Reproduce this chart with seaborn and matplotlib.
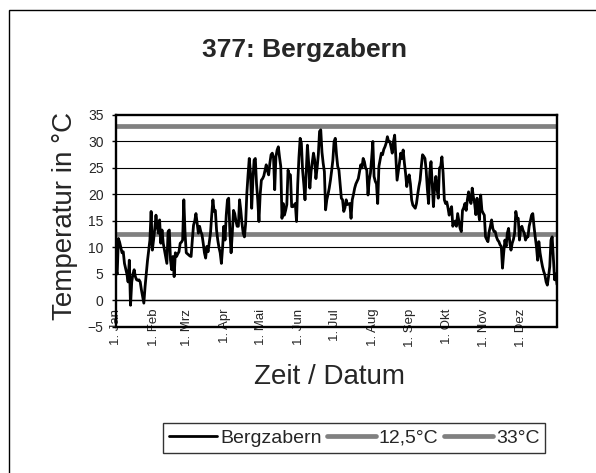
import numpy as np
import pandas as pd
import matplotlib
matplotlib.use('Agg')
import matplotlib.pyplot as plt
import matplotlib.patches as patches
import seaborn as sns

# ==============================================================================
# DATEN: Tagesmittel der Temperatur, Station 377 Bergzabern
# ==============================================================================
station = "377: Bergzabern"
monate = ["Jan", "Feb", "Mrz", "Apr", "Mai", "Jun",
          "Jul", "Aug", "Sep", "Okt", "Nov", "Dez"]
tage_pro_monat = [31, 28, 31, 30, 31, 30, 31, 31, 30, 31, 30, 31]

temp_jan = [5.8, 5.0, 11.7, 11.0, 10.0, 9.0, 9.2, 7.0, 6.0, 5.0,
            3.5, 7.6, -0.9, 3.5, 5.0, 5.8, 4.5, 3.9, 3.8, 3.9,
            3.5, 2.0, 0.7, -0.5, 2.6, 5.0, 7.5, 9.5, 11.4, 16.8, 9.5]
temp_feb = [11.4, 13.5, 16.1, 14.0, 12.7, 15.2, 10.8, 13.3, 10.8, 9.5,
            8.3, 7.0, 13.0, 13.3, 7.6, 5.8, 8.3, 4.5, 9.0, 8.3,
            8.8, 9.2, 10.8, 11.0, 11.4, 19.0, 12.7, 9.0]
temp_mrz = [8.8, 8.6, 8.4, 8.3, 11.4, 14.2, 15.0, 16.4, 14.5, 12.7,
            14.0, 13.0, 12.4, 10.8, 9.0, 8.0, 10.2, 9.2, 11.0, 12.7,
            16.1, 19.0, 16.8, 17.0, 13.3, 11.4, 10.0, 9.0, 7.0, 10.0, 14.0]
temp_apr = [11.4, 16.1, 19.0, 19.3, 13.0, 9.0, 12.7, 17.0, 16.4, 15.0,
            14.0, 14.0, 19.0, 17.0, 14.5, 12.7, 12.0, 14.5, 20.2, 23.7,
            26.8, 24.0, 17.4, 22.7, 26.5, 26.8, 22.0, 19.0, 14.9, 20.0]
temp_mai = [22.7, 23.0, 23.5, 24.6, 25.6, 24.5, 23.7, 25.9, 27.5, 27.8,
            27.0, 20.9, 27.1, 28.4, 29.0, 27.0, 25.3, 15.5, 18.3, 16.1,
            17.0, 18.1, 24.6, 23.7, 23.7, 17.7, 17.7, 18.0, 18.3, 14.9, 22.0]
temp_jun = [27.0, 30.6, 29.7, 24.6, 22.0, 19.0, 24.0, 29.3, 26.0, 21.2,
            24.3, 26.0, 27.8, 26.5, 23.0, 25.0, 27.5, 31.9, 32.2, 28.0,
            25.9, 24.3, 17.1, 19.0, 20.0, 21.2, 22.7, 24.5, 26.5, 30.0]
temp_jul = [30.6, 27.5, 25.3, 24.6, 22.0, 19.3, 19.0, 16.8, 17.5, 19.0,
            18.1, 18.2, 18.3, 15.5, 19.0, 20.0, 21.2, 22.0, 22.5, 23.0,
            24.3, 25.6, 25.0, 26.8, 26.2, 25.0, 24.6, 19.9, 22.7, 24.0, 26.8]
temp_aug = [30.0, 23.4, 22.5, 22.0, 18.3, 25.3, 26.5, 27.8, 27.5, 28.5,
            29.0, 29.7, 30.9, 30.0, 30.0, 29.0, 27.8, 30.0, 31.2, 27.0,
            22.7, 24.3, 26.0, 27.8, 26.8, 28.4, 26.0, 24.0, 21.5, 23.0, 23.7]
temp_sep = [22.0, 19.0, 18.0, 17.7, 17.4, 18.3, 20.0, 21.5, 22.7, 25.3,
            27.5, 27.2, 26.8, 24.6, 21.0, 18.3, 24.3, 26.2, 22.0, 17.7,
            21.5, 23.4, 21.0, 19.3, 25.0, 25.3, 27.1, 24.0, 19.0, 18.3]
temp_okt = [18.6, 17.5, 16.1, 17.0, 17.7, 14.0, 14.6, 15.0, 14.0, 16.4,
            15.0, 13.6, 13.0, 17.0, 17.5, 18.3, 17.0, 19.0, 20.5, 19.0,
            18.3, 21.2, 19.5, 18.3, 16.2, 19.3, 17.0, 15.2, 19.9, 17.0, 16.5]
temp_nov = [16.1, 12.0, 11.5, 11.1, 13.0, 14.0, 15.2, 13.6, 13.0, 13.0,
            12.0, 11.4, 11.1, 10.5, 10.2, 6.1, 9.0, 11.4, 10.2, 12.7,
            13.6, 11.0, 9.5, 10.8, 11.5, 12.7, 16.8, 15.5, 15.5, 11.4]
temp_dez = [13.6, 14.0, 13.2, 12.7, 11.4, 12.0, 12.0, 14.0, 15.0, 16.1,
            16.4, 14.0, 12.0, 10.2, 7.6, 11.1, 9.0, 7.6, 6.4, 5.5,
            4.8, 3.5, 2.9, 4.5, 6.4, 11.4, 12.0, 8.0, 3.9, 5.0, 3.0]

grenzwerte = [12.5, 33.0]
grenz_labels = ["12,5°C", "33°C"]

temperatur = (temp_jan + temp_feb + temp_mrz + temp_apr + temp_mai + temp_jun +
              temp_jul + temp_aug + temp_sep + temp_okt + temp_nov + temp_dez)
df = pd.DataFrame({'tag': np.arange(len(temperatur)), 'temperatur': temperatur})

monatsanfang = np.concatenate([[0], np.cumsum(tage_pro_monat)[:-1]])
tick_labels = [f"1. {m}" for m in monate]

# ==============================================================================
# PLOT
# ==============================================================================
sns.set_theme(style="white")
plt.rcParams['font.family'] = ['Liberation Sans', 'DejaVu Sans']

fig = plt.figure(figsize=(5.96, 4.73), dpi=100)
fig.patch.set_facecolor('white')

# Rahmen um das ganze Diagramm (Excel-Stil)
fig.patches.append(patches.Rectangle((9 / 596, -0.05), 1.2, 1 - 10 / 473 + 0.05,
                                     transform=fig.transFigure, fill=False,
                                     edgecolor='black', linewidth=1))

ax = fig.add_axes([0.1946, 0.3087, 0.7400, 0.4482])

ax.set_ylim(-5, 35)
ax.set_xlim(0, len(temperatur) - 1)
ax.set_yticks(range(-5, 40, 5))

# Gitterlinien
for y in range(0, 35, 5):
    ax.axhline(y, color='black', linewidth=0.8, zorder=1)

# Grenzwerte
for g, lab in zip(grenzwerte, grenz_labels):
    ax.axhline(g, color='#808080', linewidth=3.4, label=lab, zorder=2)

sns.lineplot(data=df, x='tag', y='temperatur', color='black', linewidth=2.0,
             label=station.split(': ')[1], ax=ax, zorder=3)

handles, labels = ax.get_legend_handles_labels()
order = [labels.index("Bergzabern"), labels.index("12,5°C"), labels.index("33°C")]
if ax.get_legend() is not None:
    ax.get_legend().remove()

# Achsen
for side in ['left', 'right', 'top']:
    ax.spines[side].set_color('black')
    ax.spines[side].set_linewidth(1.7)
ax.spines['bottom'].set_position(('data', 0))
ax.spines['bottom'].set_color('black')
ax.spines['bottom'].set_linewidth(1.0)
ax.axhline(-5, color='black', linewidth=1.7, clip_on=False, zorder=4)

ax.set_xticks(monatsanfang)
ax.set_xticklabels(tick_labels, rotation=90, fontsize=9.5)
ax.tick_params(axis='x', direction='out', length=3, width=1, color='black', pad=3)
ax.tick_params(axis='y', direction='out', length=3, width=1, color='black',
               labelsize=10, pad=6, left=True)
ax.set_xlabel('')
ax.set_ylabel('')

fig.text(305 / 596, 1 - 50 / 473, station, ha='center', va='center',
         fontsize=19, fontweight='bold')
fig.text(65 / 596, 1 - 216 / 473, 'Temperatur in °C', rotation=90,
         ha='center', va='center', fontsize=20)
fig.text(330 / 596, 1 - 377 / 473, 'Zeit / Datum', ha='center', va='center',
         fontsize=20)

leg = fig.legend([handles[i] for i in order], [labels[i] for i in order],
                 loc='center', bbox_to_anchor=(354 / 596, 1 - 438 / 473),
                 ncol=3, frameon=True, fancybox=False, fontsize=14,
                 handlelength=2.5, handletextpad=0.15, columnspacing=0.3,
                 borderpad=0.3, borderaxespad=0)
leg.get_frame().set_edgecolor('black')
leg.get_frame().set_linewidth(1.0)

fig.savefig('out.png', dpi=100, facecolor='white')
plt.close(fig)
